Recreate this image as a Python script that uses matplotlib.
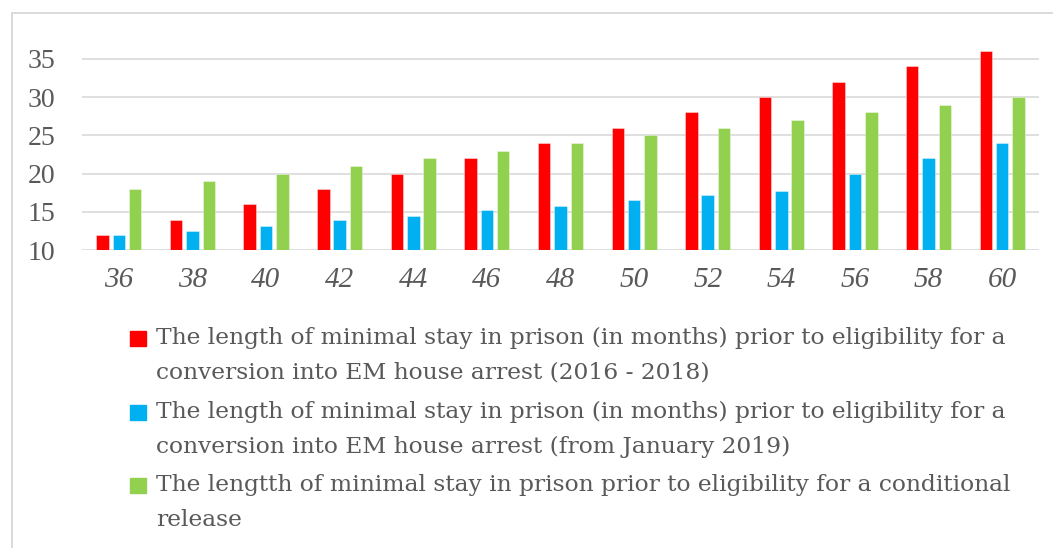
import matplotlib
matplotlib.use("Agg")
import matplotlib.pyplot as plt
import numpy as np
from matplotlib.patches import Rectangle
from matplotlib.lines import Line2D

categories = ["36", "38", "40", "42", "44", "46", "48", "50", "52", "54", "56", "58", "60"]
em_2016_2018 = [12, 14, 16, 18, 20, 22, 24, 26, 28, 30, 32, 34, 36]
em_from_2019 = [12, 12.5, 13.2, 13.9, 14.5, 15.2, 15.8, 16.5, 17.2, 17.8, 20, 22, 24]
conditional = [18, 19, 20, 21, 22, 23, 24, 25, 26, 27, 28, 29, 30]
yticks = [10, 15, 20, 25, 30, 35]

series_labels = [
    "The length of minimal stay in prison (in months) prior to eligibility for a\nconversion into EM house arrest (2016 - 2018)",
    "The length of minimal stay in prison (in months) prior to eligibility for a\nconversion into EM house arrest (from January 2019)",
    "The lengtth of minimal stay in prison prior to eligibility for a conditional\nrelease",
]
colors = ["#FF0000", "#00B0F0", "#92D050"]
text_col = "#595959"
grid_col = "#D9D9D9"

W, H = 1053, 548
fig = plt.figure(figsize=(W / 100, H / 100), dpi=100)

ax_left, ax_right = 82, 1039
y10_px = 250.3
ppu = 7.664
ytop = 36.5
top_px = y10_px - (ytop - 10) * ppu
ax = fig.add_axes([ax_left / W, (H - y10_px) / H, (ax_right - ax_left) / W, (y10_px - top_px) / H])

x = np.arange(len(categories))
bw = 0.17
step = 0.222
for i, (vals, c) in enumerate(zip([em_2016_2018, em_from_2019, conditional], colors)):
    ax.bar(x + (i - 1) * step, np.array(vals) - 10, bottom=10, width=bw, color=c,
           edgecolor=(1, 1, 1, 0.45), linewidth=0.6, zorder=3)

ax.set_xlim(-0.5, len(categories) - 0.5)
ax.set_ylim(10, ytop)
ax.set_yticks(yticks)
ax.set_yticklabels([str(t) for t in yticks])
ax.set_xticks(x)
ax.set_xticklabels(categories)
for t in ax.get_yticklabels():
    t.set_fontfamily("Liberation Serif")
    t.set_fontsize(20)
    t.set_color(text_col)
for t in ax.get_xticklabels():
    t.set_fontfamily("Liberation Serif")
    t.set_fontsize(21)
    t.set_fontstyle("italic")
    t.set_color(text_col)
ax.tick_params(axis="y", length=0, pad=19)
ax.tick_params(axis="x", length=0, pad=12)
for s in ax.spines.values():
    s.set_visible(False)
ax.grid(axis="y", color=grid_col, linewidth=1.2, zorder=0)
ax.set_axisbelow(True)

# outer chart frame
fig.add_artist(Line2D([11.5 / W, 11.5 / W], [0, (H - 13) / H], transform=fig.transFigure,
                      color=grid_col, linewidth=1.4))
fig.add_artist(Line2D([11.5 / W, 1], [(H - 13) / H, (H - 13) / H], transform=fig.transFigure,
                      color=grid_col, linewidth=1.4))

# legend
first_line_y = [338, 412, 485]
line_gap = 35
for lab, c, yl in zip(series_labels, colors, first_line_y):
    fig.add_artist(Rectangle((130 / W, (H - yl - 7.5) / H), 16 / W, 15 / H,
                             transform=fig.transFigure, color=c))
    for k, line in enumerate(lab.split("\n")):
        fig.text(156 / W, (H - yl - k * line_gap) / H, line, fontsize=16.8,
                 family="DejaVu Serif", color=text_col, va="center", ha="left")

fig.savefig("out.png", dpi=100)
